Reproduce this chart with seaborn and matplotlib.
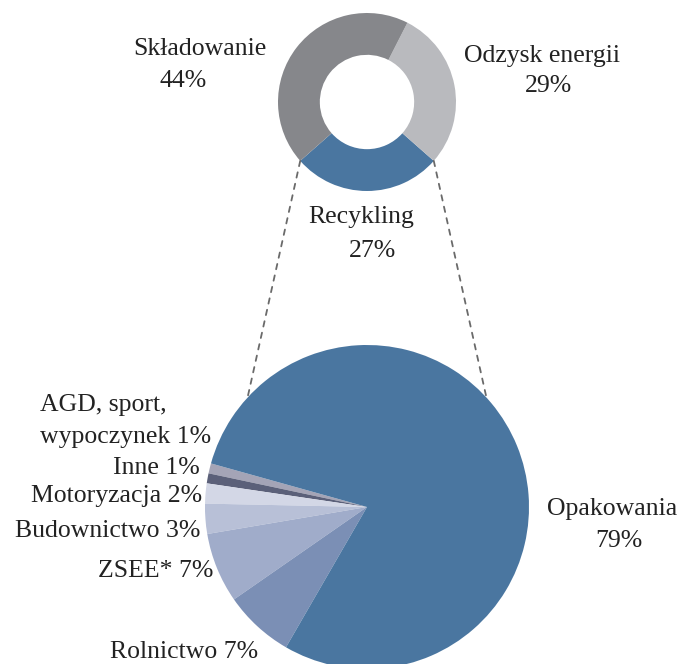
import matplotlib
matplotlib.use("Agg")
import matplotlib.pyplot as plt
import seaborn as sns
from matplotlib.patches import ConnectionPatch
import numpy as np

# donut on top: what happens to plastic waste
donut_labels = ["Recykling", "Odzysk energii", "Składowanie"]
donut_values = [27, 29, 44]
donut_colors = ["#4a76a0", "#b9babe", "#86878b"]

# pie at the bottom: where it comes from
pie_labels = ["AGD, sport,\nwypoczynek", "Inne", "Motoryzacja", "Budownictwo",
              "ZSEE*", "Rolnictwo", "Opakowania"]
pie_values = [1, 1, 2, 3, 7, 7, 79]
pie_colors = ["#a4a4b6", "#5b6079", "#d3d7e6", "#b8c0d7", "#a0acca", "#7b8fb5", "#4a76a0"]

sns.set_style("white")
plt.rcParams['font.family'] = ['Liberation Serif', 'DejaVu Serif']

W, H = 682, 664
fig = plt.figure(figsize=(W / 100, H / 100), dpi=100)


def px_axes(cx, cy, r):
    return fig.add_axes([(cx - r) / W, 1 - (cy + r) / H, 2 * r / W, 2 * r / H])


# top donut
ax1 = px_axes(367, 102, 89)
w1, _ = ax1.pie(donut_values, colors=donut_colors, startangle=221.4, counterclock=True,
                wedgeprops=dict(width=0.47, linewidth=0))
ax1.set_xlim(-1, 1)
ax1.set_ylim(-1, 1)
ax1.set_aspect("equal")
ax1.axis("off")

# bottom pie
ax2 = px_axes(367, 507, 162)
w2, _ = ax2.pie(pie_values, colors=pie_colors, startangle=164.4, counterclock=True,
                wedgeprops=dict(linewidth=0))
ax2.set_xlim(-1, 1)
ax2.set_ylim(-1, 1)
ax2.set_aspect("equal")
ax2.axis("off")

# dashed connectors from the recycling wedge to the big pie
rec = w1[0]
for ang_a, ang_b in [(rec.theta1, 137.5), (rec.theta2, 42.5)]:
    a = np.deg2rad(ang_a)
    b = np.deg2rad(ang_b)
    con = ConnectionPatch(xyA=(np.cos(a), np.sin(a)), coordsA=ax1.transData,
                          xyB=(np.cos(b), np.sin(b)), coordsB=ax2.transData,
                          linestyle=(0, (3, 3.5)), color="#6a6a6a", linewidth=1.3)
    fig.add_artist(con)

fs = 18.5
tc = "#222222"


def put(txt, x, y, ha):
    fig.text(x / W, 1 - y / H, txt, ha=ha, va="baseline", fontsize=fs, color=tc)


# donut labels
put(donut_labels[2], 200, 55, "center")
put(f"{donut_values[2]}%", 183, 87, "center")
put(donut_labels[1], 542, 62, "center")
put(f"{donut_values[1]}%", 548, 92, "center")
put(donut_labels[0], 361, 223, "center")
put(f"{donut_values[0]}%", 372, 257, "center")

# pie labels
agd = pie_labels[0].split("\n")
put(agd[0], 40, 411, "left")
put(f"{agd[1]} {pie_values[0]}%", 40, 443, "left")
put(f"{pie_labels[1]} {pie_values[1]}%", 200, 474, "right")
put(f"{pie_labels[2]} {pie_values[2]}%", 202, 502, "right")
put(f"{pie_labels[3]} {pie_values[3]}%", 200, 537, "right")
put(f"{pie_labels[4]} {pie_values[4]}%", 213, 577, "right")
put(f"{pie_labels[5]} {pie_values[5]}%", 258, 658, "right")
put(pie_labels[6], 612, 515, "center")
put(f"{pie_values[6]}%", 619, 547, "center")

fig.savefig("out.png", dpi=100)
